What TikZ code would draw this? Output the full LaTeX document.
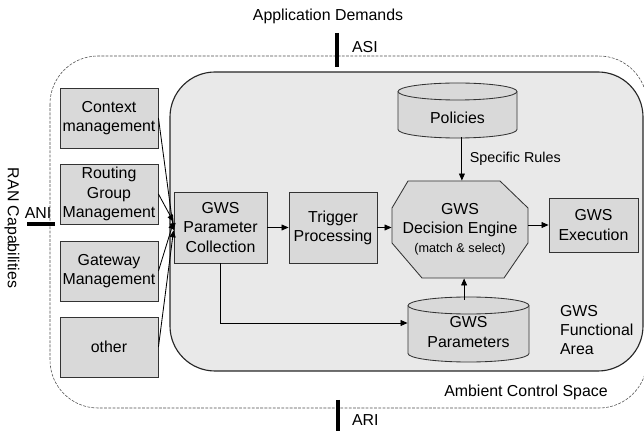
\documentclass[tikz,border=0pt]{standalone}
\usepackage{fontspec}
\setmainfont{Liberation Sans}
\usetikzlibrary{arrows.meta,positioning}

\begin{document}
\begin{tikzpicture}[
    x=0.025cm, y=-0.025cm,
    font=\fontsize{11.3}{13.6}\selectfont,
    >={Triangle[length=5pt,width=4.2pt]},
    line width=0.6pt,
    mgmt/.style={draw=black!80, fill=gray!30, minimum width=2.45cm, minimum height=1.5cm, align=center, inner sep=1pt},
    proc/.style={draw=black!80, fill=gray!30, minimum height=1.775cm, align=center, inner sep=1pt},
    shapefill/.style={draw=black!80, fill=gray!30},
    bar/.style={line width=3.4pt},
    small/.style={font=\fontsize{10.2}{12}\selectfont}
]
\useasboundingbox (0,0) rectangle (644,431);

% spaces
\draw[black!70, line width=0.4pt, dash pattern=on 2pt off 1pt, rounded corners=1.2cm] (50,56) rectangle (647,408);
\draw[black!85, line width=0.8pt, fill=gray!17, rounded corners=1.125cm] (170,72) rectangle (643,371);

\node (appdem) at (328,16) {Application Demands};
\node[anchor=west] (asi) at (347,47) {ASI};
\node[anchor=west] (ari) at (347,420) {ARI};
\node (ani) at (38,213) {ANI};
\node[rotate=-90] (ran) at (12,228) {RAN Capabilities};
\node (acs) at (526,392) {Ambient Control Space};
\node[anchor=west, align=left] (gwsfa) at (555,330) {GWS\\Functional\\Area};
\draw[bar] (337,33) -- (337,67);
\draw[bar] (338,400) -- (338,431);
\draw[bar] (27,224) -- (55,224);

% RAN side functions
\node[mgmt] (ctx) at (109,118) {Context\\management};
\node[mgmt] (rgm) at (109,194) {Routing\\Group\\Management};
\node[mgmt] (gwm) at (109,271) {Gateway\\Management};
\node[mgmt] (oth) at (109,347) {other};

% decision engine outline and data stores
\draw[shapefill, shift={(460,229.5)}] (-52,-48.5) -- (40,-48.5) -- (68,-21.5) -- (68,13.5) -- (44,48.5)
    -- (-38,48.5) -- (-68,13.5) -- (-68,-21.5) -- cycle;
\draw[shapefill] (398,91.5) -- (398,129.5) arc[start angle=180, end angle=0, x radius=59.5, y radius=8.5]
    -- (517,91.5) arc[start angle=0, end angle=-180, x radius=59.5, y radius=8.5] -- cycle;
\draw[black!80] (398,91.5) arc[start angle=180, end angle=0, x radius=59.5, y radius=8.5];
\draw[shapefill] (408,305.5) -- (408,353.5) arc[start angle=180, end angle=0, x radius=60.5, y radius=8.5]
    -- (529,305.5) arc[start angle=0, end angle=-180, x radius=60.5, y radius=8.5] -- cycle;
\draw[black!80] (408,305.5) arc[start angle=180, end angle=0, x radius=60.5, y radius=8.5];

% GWS chain
\node[proc, minimum width=2.325cm] (pc) at (220.5,227.5) {GWS\\Parameter\\Collection};
\node[proc, minimum width=2.2cm] (trig) at (333,227.5) {Trigger\\Processing};
\node[minimum width=3.4cm, minimum height=2.425cm, align=center, inner sep=1pt] (eng) at (460,229.5)
    {GWS\\Decision Engine\\{\small (match \& select)}};
\node[proc, minimum width=2.225cm, minimum height=1.35cm] (exec) at (593.5,225) {GWS\\Execution};
\node[minimum width=2.975cm, minimum height=0.95cm, inner sep=1pt] (pol) at (457.5,118) {Policies};
\node[minimum width=3.025cm, minimum height=1.6cm, align=center, inner sep=1pt] (par) at (468.5,332) {GWS\\Parameters};

\draw[->] (ctx.east) -- ([yshift=-0.07cm]pc.west);
\draw[->] (rgm.east) -- ([yshift=0.14cm]pc.west);
\draw[->] (gwm.east) -- ([yshift=0.14cm]pc.west);
\draw[->] (oth.east) -- ([yshift=-0.07cm]pc.west);
\draw[->] (pc.east) -- (trig.west);
\draw[->] (trig.east) -- (trig.east -| eng.west);
\draw[->] (exec.west -| eng.east) -- (exec.west);
\draw[->] ([xshift=0.11cm]pol.south) -- ([xshift=0.11cm]pol.south |- eng.north)
    node[midway, right, small, xshift=2pt] (rules) {Specific Rules};
\draw[->] ([xshift=-0.11cm]par.north) -- ([xshift=-0.11cm]par.north |- eng.south);
\draw[->] (pc.south) |- ([yshift=0.225cm]par.west);
\end{tikzpicture}
\end{document}
